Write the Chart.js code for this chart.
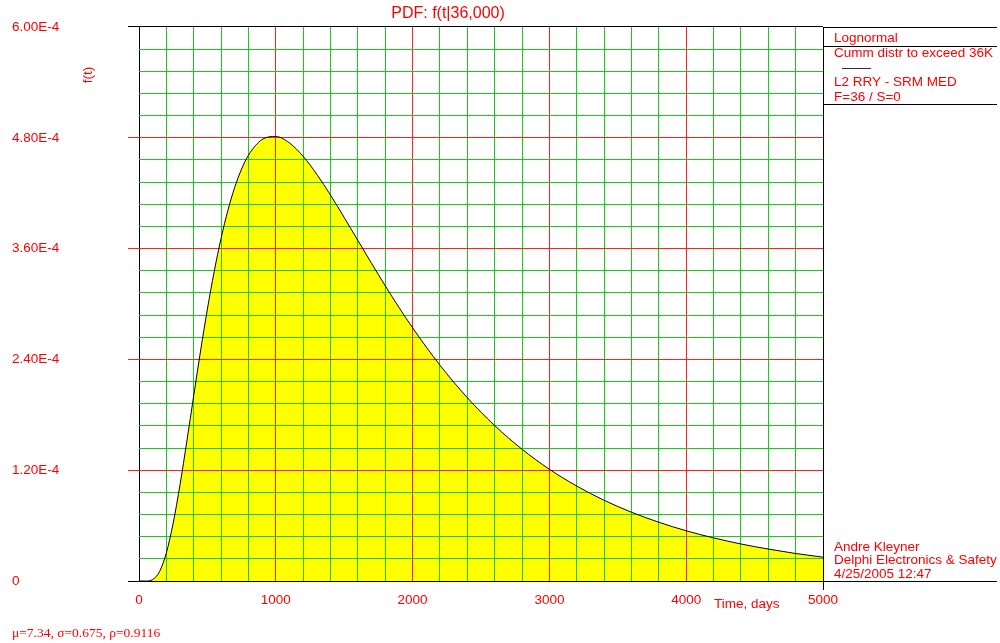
<!DOCTYPE html>
<html>
<head>
<meta charset="utf-8">
<title>PDF: f(t|36,000)</title>
<script src="https://cdn.jsdelivr.net/npm/chart.js@4.4.1/dist/chart.umd.min.js"></script>
<style>
  body { margin: 0; background: #fff; }
</style>
</head>
<body>
<canvas id="pdfChart" width="1000" height="643"></canvas>
<script>
// values
var timeDays = [0, 50, 100, 150, 200, 250, 300, 350, 400, 450, 500, 550, 600, 650, 700, 750, 800, 900,
  1000, 1100, 1200, 1300, 1400, 1500, 1600, 1700, 1800, 1900, 2000, 2200, 2400, 2600, 2800,
  3000, 3200, 3400, 3600, 3800, 4000, 4200, 4400, 4600, 4800, 5000];
var density = [0, 0, 1.6e-6, 1.02e-5, 3.05e-5, 6.28e-5, 1.044e-4, 1.516e-4, 2.008e-4, 2.491e-4, 2.945e-4,
  3.354e-4, 3.712e-4, 4.015e-4, 4.265e-4, 4.462e-4, 4.611e-4, 4.782e-4,
  4.814e-4, 4.744e-4, 4.599e-4, 4.404e-4, 4.179e-4, 3.937e-4, 3.688e-4, 3.440e-4, 3.197e-4, 2.964e-4,
  2.742e-4, 2.337e-4, 1.985e-4, 1.683e-4, 1.427e-4,
  1.210e-4, 1.028e-4, 0.874e-4, 0.745e-4, 0.636e-4, 0.544e-4, 0.467e-4, 0.401e-4, 0.346e-4, 0.298e-4, 0.258e-4];

var xTickLabels = ['0', '1000', '2000', '3000', '4000', '5000'];
var yTickLabels = ['0', '1.20E-4', '2.40E-4', '3.60E-4', '4.80E-4', '6.00E-4'];
var legendLines = ['Lognormal', 'Cumm distr to exceed 36K', 'L2 RRY - SRM MED', 'F=36 / S=0'];
var authorLines = ['Andre Kleyner', 'Delphi Electronics & Safety', '4/25/2005 12:47'];
var paramText = 'μ=7.34, σ=0.675, ρ=0.9116';

var RED = '#ff2020';
var GREEN = '#1ec81e';
var SANS = '"Liberation Sans", Arial, sans-serif';

var points = timeDays.map(function(t, i) { return { x: t, y: density[i] }; });

var annotations = {
  id: 'annotations',
  afterDraw: function(chart) {
    var c = chart.ctx;
    var area = chart.chartArea;
    c.save();
    c.fillStyle = 'red';
    c.textBaseline = 'middle';

    c.font = '16px ' + SANS;
    c.textAlign = 'center';
    c.fillText('PDF: f(t|36,000)', 448, 14);

    c.font = '13.5px ' + SANS;
    c.save();
    c.translate(88, 75);
    c.rotate(-Math.PI / 2);
    c.fillText('f(t)', 0, 0);
    c.restore();

    c.textAlign = 'left';
    c.fillText('Time, days', 714, 604);

    var legendY = [38, 53, 82, 97];
    legendLines.forEach(function(s, i) { c.fillText(s, 834, legendY[i]); });
    var authorY = [547, 560, 574];
    authorLines.forEach(function(s, i) { c.fillText(s, 834, authorY[i]); });

    c.font = '13.5px "Liberation Serif", "Times New Roman", serif';
    c.fillText(paramText, 12, 633);

    c.strokeStyle = '#000';
    c.lineWidth = 1;
    [area.top, 46, 104, area.bottom].forEach(function(y) {
      var py = Math.round(y) + 0.5;
      c.beginPath();
      c.moveTo(area.right, py);
      c.lineTo(997, py);
      c.stroke();
    });
    c.strokeStyle = '#333';
    c.beginPath();
    c.moveTo(842, 68.5);
    c.lineTo(871, 68.5);
    c.stroke();
    c.restore();
  }
};

new Chart(document.getElementById('pdfChart'), {
  type: 'line',
  data: {
    datasets: [{
      data: points,
      borderColor: '#000',
      borderWidth: 1,
      backgroundColor: '#ffff00',
      fill: 'origin',
      pointRadius: 0,
      cubicInterpolationMode: 'monotone'
    }]
  },
  options: {
    responsive: false,
    animation: false,
    devicePixelRatio: 1,
    layout: { padding: { left: 12, top: 27, right: 177, bottom: 0 } },
    plugins: {
      legend: { display: false },
      tooltip: { enabled: false },
      filler: { drawTime: 'beforeDraw' }
    },
    scales: {
      x: {
        type: 'linear',
        min: 0,
        max: 5000,
        afterFit: function(scale) { scale.height = 62; },
        afterBuildTicks: function(scale) {
          var ticks = [];
          for (var v = 0; v <= 5000; v += 200) ticks.push({ value: v });
          scale.ticks = ticks;
        },
        border: { display: false },
        grid: {
          lineWidth: 1,
          tickLength: 9,
          color: function(ctx) {
            var v = ctx.tick ? ctx.tick.value : 0;
            if (v === 0 || v === 5000) return '#000';
            return v % 1000 === 0 ? RED : GREEN;
          },
          tickColor: function(ctx) {
            return ctx.tick && ctx.tick.value === 5000 ? '#000' : 'rgba(0,0,0,0)';
          }
        },
        ticks: {
          autoSkip: false,
          maxRotation: 0,
          padding: 2,
          color: 'red',
          font: { family: SANS, size: 13.5 },
          callback: function(value) {
            return value % 1000 === 0 ? xTickLabels[value / 1000] : '';
          }
        }
      },
      y: {
        type: 'linear',
        min: 0,
        max: 6e-4,
        afterFit: function(scale) { scale.width = 127; },
        afterBuildTicks: function(scale) {
          var ticks = [];
          for (var i = 0; i <= 25; i++) ticks.push({ value: i * 2.4e-5 });
          scale.ticks = ticks;
        },
        border: { display: false },
        grid: {
          lineWidth: 1,
          tickLength: 11,
          color: function(ctx) {
            var i = ctx.index;
            if (i === 0 || i === 25) return '#000';
            return i % 5 === 0 ? RED : GREEN;
          },
          tickColor: function(ctx) {
            var i = ctx.index;
            if (i === 0 || i === 25) return '#000';
            return i % 5 === 0 ? RED : 'rgba(0,0,0,0)';
          }
        },
        ticks: {
          autoSkip: false,
          crossAlign: 'far',
          color: 'red',
          font: { family: SANS, size: 13.5 },
          callback: function(value, index) {
            return index % 5 === 0 ? yTickLabels[index / 5] : '';
          }
        }
      }
    }
  },
  plugins: [annotations]
});
</script>
</body>
</html>
